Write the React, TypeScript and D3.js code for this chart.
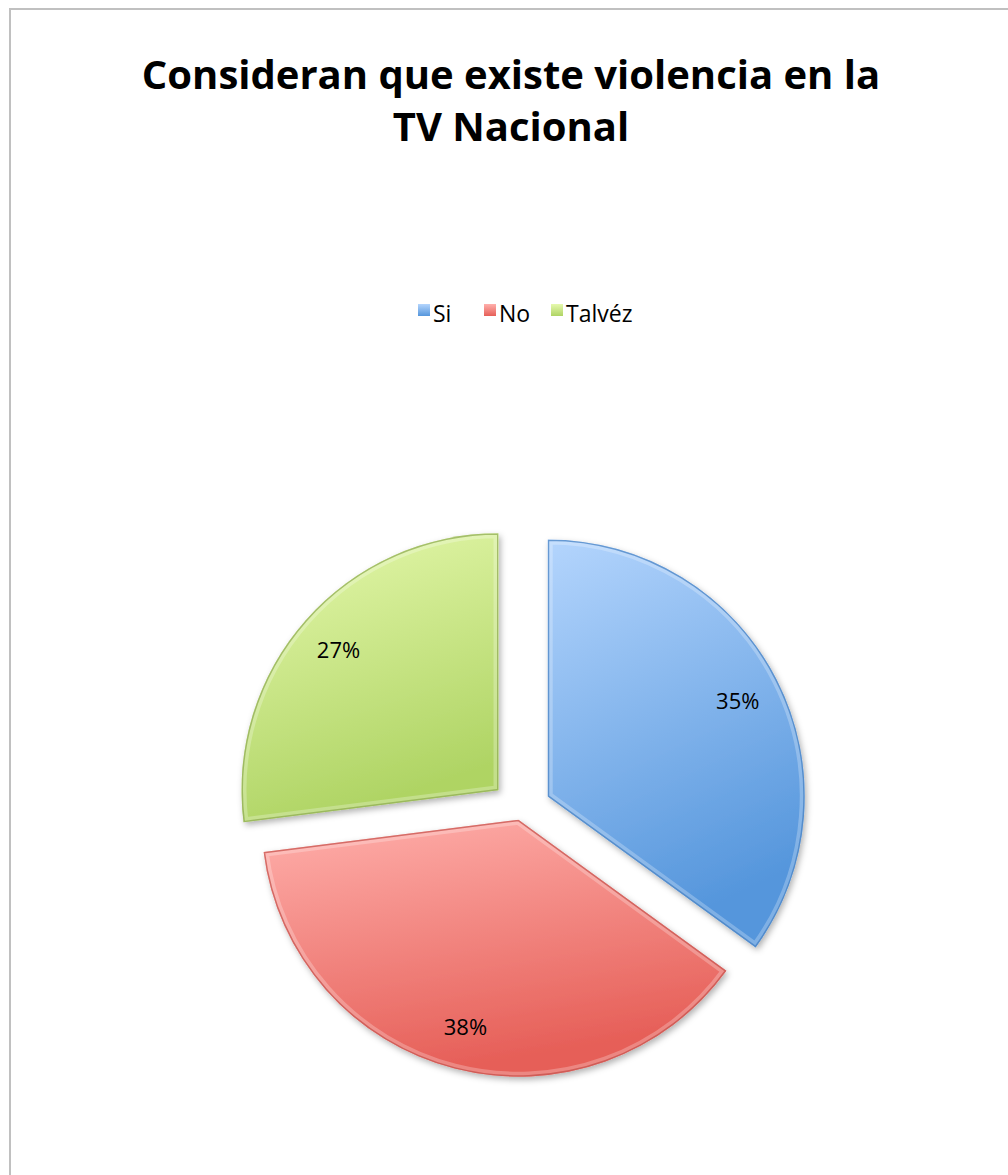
import React from "react";
import * as d3 from "d3";

const categories = ["Si", "No", "Talvéz"];
const values = [35, 38, 27];
const labels = ["35%", "38%", "27%"];
const explode = [30, 10, 30];
const topColors = ["#b4d5fd", "#ffb0ac", "#e6f9ae"];
const bottomColors = ["#5596dc", "#e65f58", "#afd464"];
const edgeColors = ["#3f7cc0", "#c44a44", "#8aa84a"];

const W = 1008;
const H = 1175;
const cx = 521;
const cy = 810;
const R = 257;

export default function App() {
  const pie = d3.pie<number>().sort(null).startAngle(0).endAngle(2 * Math.PI)(values);
  const arc = d3.arc<d3.PieArcDatum<number>>().innerRadius(0).outerRadius(R);
  const labelArc = d3.arc<d3.PieArcDatum<number>>().innerRadius(R * 0.83).outerRadius(R * 0.83);

  const legendX = [418, 484, 551];

  return (
    <svg width={W} height={H} style={{ position: "absolute", left: 0, top: 0 }} fontFamily="'Open Sans', sans-serif">
      <defs>
        <filter id="shadow" x="-20%" y="-20%" width="140%" height="140%">
          <feDropShadow dx="2" dy="3" stdDeviation="3" floodColor="#000" floodOpacity="0.3" />
        </filter>
        {pie.map((p, i) => (
          <linearGradient key={i} id={`g${i}`} x1="0" y1="0" x2="0.3" y2="1">
            <stop offset="0" stopColor={topColors[i]} />
            <stop offset="1" stopColor={bottomColors[i]} />
          </linearGradient>
        ))}
        {pie.map((p, i) => (
          <clipPath key={i} id={`c${i}`}>
            <path d={arc(p) || ""} />
          </clipPath>
        ))}
        {categories.map((c, i) => (
          <linearGradient key={c} id={`legG${i}`} x1="0" y1="0" x2="0" y2="1">
            <stop offset="0" stopColor={topColors[i]} />
            <stop offset="1" stopColor={bottomColors[i]} />
          </linearGradient>
        ))}
      </defs>

      <rect x={10} y={9} width={W + 20} height={H + 20} fill="#fff" stroke="#c0c0c0" strokeWidth={2} />

      <text x={511} y={89} textAnchor="middle" fontSize={40} fontWeight={700} fill="#000">
        Consideran que existe violencia en la
      </text>
      <text x={511} y={141} textAnchor="middle" fontSize={40} fontWeight={700} fill="#000">
        TV Nacional
      </text>

      {categories.map((c, i) => (
        <g key={c}>
          <rect x={legendX[i]} y={304} width={12} height={12} fill={`url(#legG${i})`} />
          <text x={legendX[i] + 15} y={322} fontSize={23} fill="#000">
            {c}
          </text>
        </g>
      ))}

      {pie.map((p, i) => {
        const mid = (p.startAngle + p.endAngle) / 2;
        const dx = Math.sin(mid) * explode[i];
        const dy = -Math.cos(mid) * explode[i];
        const [lx, ly] = labelArc.centroid(p);
        return (
          <g key={i} transform={`translate(${cx + dx},${cy + dy})`}>
            <path d={arc(p) || ""} fill={`url(#g${i})`} filter="url(#shadow)" />
            <g clipPath={`url(#c${i})`}>
              <path d={arc(p) || ""} fill="none" stroke="#ffffff" strokeOpacity={0.25} strokeWidth={10} />
              <path d={arc(p) || ""} fill="none" stroke={edgeColors[i]} strokeOpacity={0.7} strokeWidth={3} />
            </g>
            <text x={lx} y={ly} textAnchor="middle" dominantBaseline="central" fontSize={22} fill="#000">
              {labels[i]}
            </text>
          </g>
        );
      })}
    </svg>
  );
}
